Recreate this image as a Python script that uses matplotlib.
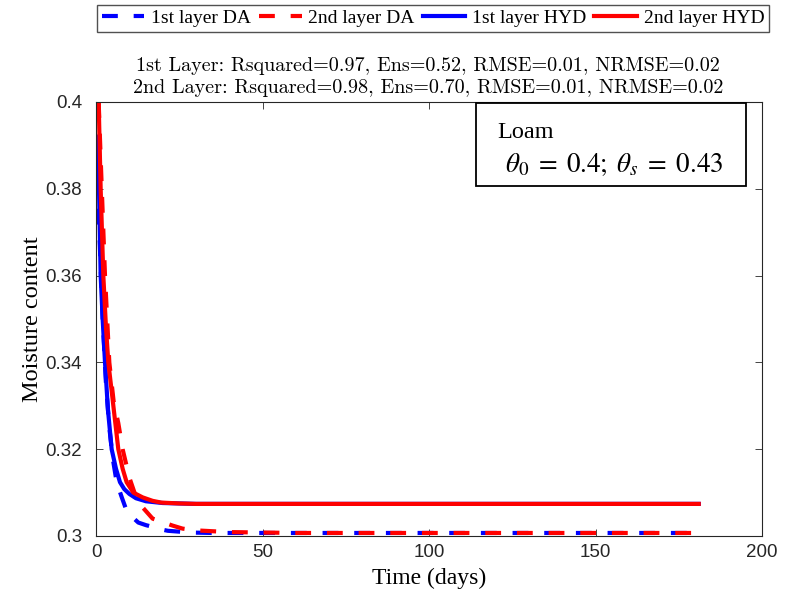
import matplotlib
matplotlib.use("Agg")
import matplotlib.pyplot as plt
from matplotlib.patches import Rectangle

# ---- data ----
t_da1 = [0.3, 1, 2, 3, 4, 5, 6.2, 7.7, 9.2, 11, 12.7, 15, 17, 19, 21.6, 25, 28, 35, 60, 100, 140, 181]
y_da1 = [0.390, 0.370, 0.350, 0.335, 0.325, 0.318, 0.3124, 0.309, 0.3058, 0.3043, 0.3031, 0.3025, 0.3021,
         0.3016, 0.3012, 0.3010, 0.3008, 0.3007, 0.3007, 0.3007, 0.3007, 0.3007]

t_da2 = [0.8, 1.5, 2.7, 4, 5.3, 6.7, 8, 10, 12, 14, 17, 20, 23, 26, 30, 40, 60, 100, 140, 181]
y_da2 = [0.400, 0.385, 0.360, 0.340, 0.331, 0.326, 0.320, 0.3135, 0.309, 0.3066, 0.3040, 0.3032, 0.3024,
         0.3017, 0.3013, 0.3009, 0.3007, 0.3007, 0.3007, 0.3007]

t_hyd1 = [0.3, 0.9, 1.4, 2.0, 2.7, 3.6, 4.7, 6, 7.2, 8.5, 10, 12, 15, 20, 30, 60, 100, 140, 181]
y_hyd1 = [0.392, 0.380, 0.360, 0.350, 0.340, 0.329, 0.320, 0.3155, 0.3124, 0.3108, 0.3097, 0.3087, 0.3080,
          0.3076, 0.3074, 0.3074, 0.3074, 0.3074, 0.3074]

t_hyd2 = [0.8, 1.4, 2.2, 3.0, 3.7, 5.0, 6.7, 8, 9.2, 11.2, 14, 17, 19.6, 25, 30, 60, 100, 140, 181]
y_hyd2 = [0.400, 0.380, 0.360, 0.348, 0.340, 0.3314, 0.320, 0.3155, 0.3124, 0.3100, 0.3089, 0.3081, 0.3077,
          0.3075, 0.3074, 0.3074, 0.3074, 0.3074, 0.3074]

labels = ["1st layer DA", "2nd layer DA", "1st layer HYD", "2nd layer HYD"]
title_lines = ["1st Layer: Rsquared=0.97, Ens=0.52, RMSE=0.01, NRMSE=0.02",
               "2nd Layer: Rsquared=0.98, Ens=0.70, RMSE=0.01, NRMSE=0.02"]
x_ticks = [0, 50, 100, 150, 200]
y_ticks = [0.30, 0.32, 0.34, 0.36, 0.38, 0.40]
y_ticklabels = ["0.3", "0.32", "0.34", "0.36", "0.38", "0.4"]

plt.rcParams['mathtext.fontset'] = 'stix'

W, H = 788, 603
fig = plt.figure(figsize=(W/100, H/100), dpi=100)
ax = fig.add_axes([96/W, 1-536/H, (762-96)/W, (536-102)/H])

lw = 3.0
l1, = ax.plot(t_da1, y_da1, color='#0000ff', lw=lw, dashes=(3.8, 3.8), label=labels[0])
l2, = ax.plot(t_da2, y_da2, color='#ff0000', lw=lw, dashes=(3.8, 3.8), label=labels[1])
l3, = ax.plot(t_hyd1, y_hyd1, color='#0000ff', lw=lw, label=labels[2])
l4, = ax.plot(t_hyd2, y_hyd2, color='#ff0000', lw=lw, label=labels[3])

ax.set_xlim(0, 200)
ax.set_ylim(0.3, 0.4)
ax.set_xticks(x_ticks)
ax.set_xticklabels([str(v) for v in x_ticks], fontfamily='Liberation Sans', fontsize=13.5)
ax.set_yticks(y_ticks)
ax.set_yticklabels(y_ticklabels, fontfamily='Liberation Sans', fontsize=13.5)
ax.tick_params(direction='in', top=True, right=True, length=5, width=0.6, colors='#262626')
ax.tick_params(axis='y', pad=10)
ax.tick_params(axis='x', pad=6)
for s in ax.spines.values():
    s.set_linewidth(0.8)
    s.set_color('#262626')

ax.set_xlabel("Time (days)", fontfamily='Liberation Serif', fontsize=17, labelpad=5)
ax.set_ylabel("Moisture content", fontfamily='Liberation Serif', fontsize=17.5, labelpad=2)

fig.text(428/W, 1-66/H, title_lines[0], fontfamily='cmr10', fontsize=14.5, ha='center', va='center')
fig.text(428/W, 1-88/H, title_lines[1], fontfamily='cmr10', fontsize=14.5, ha='center', va='center')

leg = fig.legend(handles=[l1, l2, l3, l4], loc='center', bbox_to_anchor=(433/W, 1-18.5/H), ncol=4,
                 prop={'family': 'Liberation Serif', 'size': 14}, frameon=True, fancybox=False,
                 edgecolor='#262626', handlelength=2.2, handletextpad=0.35, columnspacing=0.4,
                 borderpad=0.25, borderaxespad=0)
leg.get_frame().set_linewidth(1.0)

# annotation box
fig.add_artist(Rectangle((476/W, 1-186/H), (746-476)/W, (186-103)/H, transform=fig.transFigure,
                         facecolor='white', edgecolor='black', linewidth=1.3, zorder=5))
fig.text(497/W, 1-133/H, "Loam", fontfamily='Liberation Serif', fontsize=17.5, ha='left', va='center', zorder=6)
fig.text(505/W, 1-165/H, r"$\theta_0\;=\;0.4;\;\theta_s\;=\;0.43$", fontsize=19.5, ha='left', va='center', zorder=6)

fig.savefig("out.png", dpi=100)
